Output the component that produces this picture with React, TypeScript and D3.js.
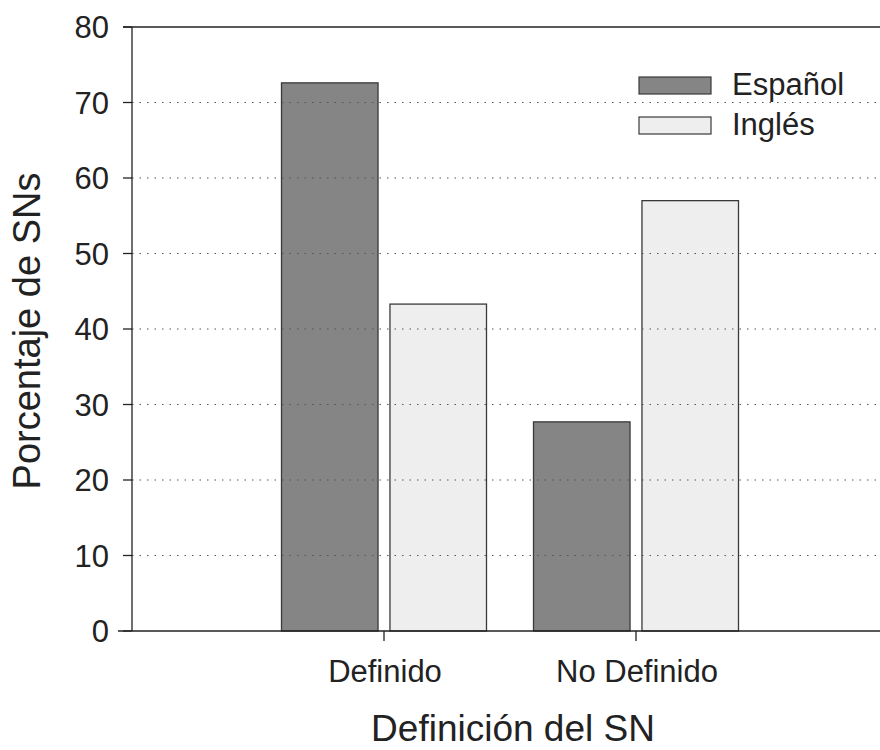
import React from "react";
import * as d3 from "d3";

const categories = ["Definido", "No Definido"];
const seriesNames = ["Español", "Inglés"];
const espanol = [72.6, 27.7];
const ingles = [43.3, 57.0];
const yTicks = [0, 10, 20, 30, 40, 50, 60, 70, 80];

const W = 880, H = 750;
const left = 132, top = 27, bottom = 631;
const colors = ["#858585", "#eeeeee"];

export default function App() {
  const y = d3.scaleLinear().domain([0, 80]).range([bottom, top]);
  const x = d3.scaleBand<string>().domain(categories).range([258, 762]).paddingInner(0).paddingOuter(0);
  const groupW = 205;
  const xs = d3.scaleBand<string>().domain(seriesNames).range([0, groupW]).paddingInner(0.11).paddingOuter(0);
  const values = [espanol, ingles];
  const font = "'Liberation Sans', Arial, sans-serif";
  const textColor = "#222";

  return (
    <svg width={W} height={H} style={{ position: "absolute", left: 0, top: 0, background: "#fff" }} fontFamily={font}>
      <rect x={0} y={0} width={W} height={H} fill="#fff" />
      {categories.map((c, ci) =>
        seriesNames.map((s, si) => {
          const cx = (x(c) as number) + x.bandwidth() / 2;
          const bx = cx - groupW / 2 + (xs(s) as number);
          const v = values[si][ci];
          return (
            <rect key={c + s} x={bx} y={y(v)} width={xs.bandwidth()} height={bottom - y(v)}
              fill={colors[si]} stroke="#3a3a3a" strokeWidth={1.3} />
          );
        })
      )}
      {yTicks.filter(t => t > 0 && t < 80).map(t => (
        <line key={t} x1={left} x2={W} y1={y(t)} y2={y(t)} stroke="#555" strokeWidth={1.2} strokeDasharray="1.5,6" />
      ))}
      <line x1={123} x2={W} y1={top} y2={top} stroke="#222" strokeWidth={1.3} />
      <line x1={118} x2={W} y1={bottom} y2={bottom} stroke="#222" strokeWidth={1.5} />
      <line x1={left} x2={left} y1={top} y2={bottom} stroke="#222" strokeWidth={1.3} />
      {yTicks.map(t => (
        <g key={t}>
          <line x1={123} x2={left} y1={y(t)} y2={y(t)} stroke="#222" strokeWidth={1.3} />
          <text x={109} y={y(t)} dy="0.36em" textAnchor="end" fontSize={31} fill={textColor}>{t}</text>
        </g>
      ))}
      {categories.map(c => {
        const cx = (x(c) as number) + x.bandwidth() / 2;
        return (
          <g key={c}>
            <line x1={cx} x2={cx} y1={bottom} y2={bottom + 10} stroke="#222" strokeWidth={1.3} />
            <text x={cx + 1} y={682} textAnchor="middle" fontSize={31} fill={textColor}>{c}</text>
          </g>
        );
      })}
      <text x={513} y={741} textAnchor="middle" fontSize={37} fill={textColor}>Definición del SN</text>
      <text transform={`translate(40,331) rotate(-90)`} textAnchor="middle" fontSize={38} fill={textColor}>Porcentaje de SNs</text>
      {seriesNames.map((s, i) => (
        <g key={s} transform={`translate(639,${77 + i * 40})`}>
          <rect x={0} y={0} width={72} height={17} fill={colors[i]} stroke="#3a3a3a" strokeWidth={1.2} />
          <text x={93} y={18} fontSize={31} fill={textColor}>{s}</text>
        </g>
      ))}
    </svg>
  );
}
